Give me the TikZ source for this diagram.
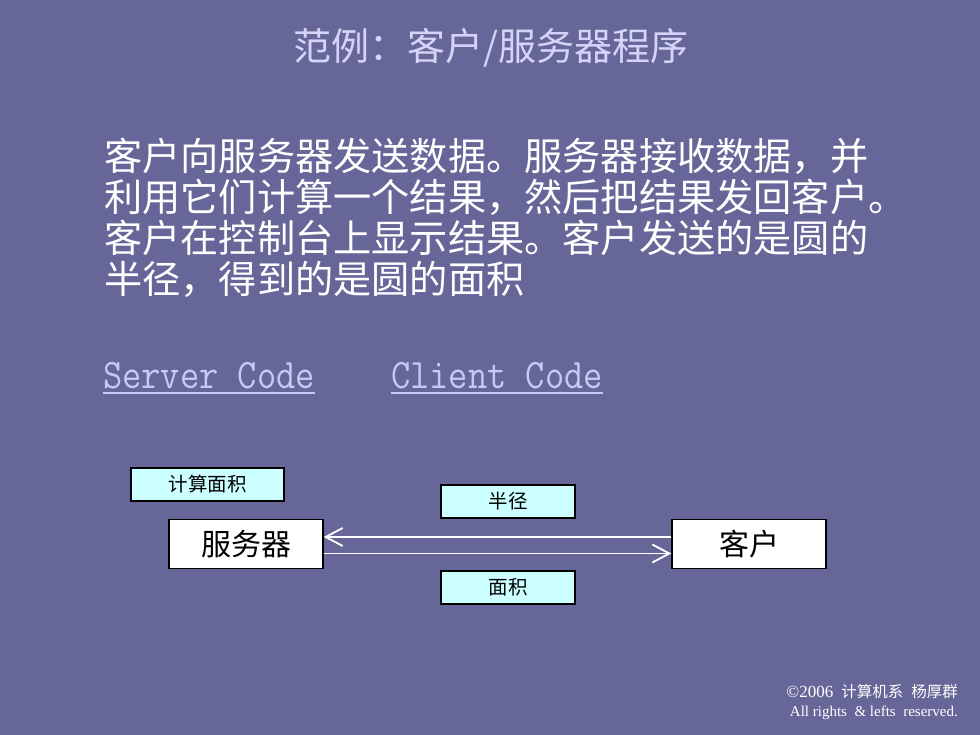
\documentclass[tikz,border=0pt]{standalone}
\usepackage{fontspec}
\usepackage{graphicx}
\setmainfont{Liberation Serif}
\newfontfamily\cjk{Noto Sans CJK SC}
\newfontfamily\lmmono{Latin Modern Mono}
\usetikzlibrary{arrows.meta}
\definecolor{bg}{HTML}{666699}
\definecolor{titlec}{HTML}{D4D4F8}
\definecolor{linkc}{HTML}{C8C8F4}
\definecolor{boxc}{HTML}{CCFFFF}
\tikzset{
  smallbox/.style={draw=black,line width=1.5pt,fill=boxc,inner sep=0pt,font=\cjk\fontsize{19.5}{22}\selectfont},
  bigbox/.style={draw=black,line width=1.5pt,fill=white,inner sep=0pt,minimum width=154pt,minimum height=49pt,font=\cjk\fontsize{30}{32}\selectfont},
  arr/.style={draw=white,line width=1.8pt,-{Straight Barb[length=17pt,width=18pt,line width=1.8pt]}},
  bodyline/.style={anchor=west,inner sep=0pt,text=white,font=\cjk\fontsize{38.2}{41}\selectfont},
  linktext/.style={anchor=base west,inner sep=0pt,text=linkc,font=\lmmono\fontsize{42}{44}\selectfont},
  linkline/.style={draw=linkc,line width=1.5pt}
}
\begin{document}
\begin{tikzpicture}[x=1pt,y=-1pt]
\fill[bg] (0,0) rectangle (980,735);
\useasboundingbox (0,0) rectangle (980,735);
% title
\node[inner sep=0pt,text=titlec,font=\cjk\fontsize{38}{40}\selectfont] (title) at (491,48) {范例：客户/服务器程序};
% body
\node[bodyline] (l1) at (104,156) {客户向服务器发送数据。服务器接收数据，并};
\node[bodyline] (l2) at (104,197) {利用它们计算一个结果，然后把结果发回客户。};
\node[bodyline] (l3) at (104,238) {客户在控制台上显示结果。客户发送的是圆的};
\node[bodyline] (l4) at (104,279) {半径，得到的是圆的面积};
% links
\node[linktext] (sc) at (103,388) {\scalebox{0.89}[1]{Server Code}};
\node[linktext] (cc) at (391,388) {\scalebox{0.89}[1]{Client Code}};
\draw[linkline] ([yshift=-5pt]sc.base west) -- ([yshift=-5pt]sc.base east);
\draw[linkline] ([yshift=-5pt]cc.base west) -- ([yshift=-5pt]cc.base east);
% diagram
\node[smallbox,minimum width=153pt,minimum height=33pt] (calc) at (207.5,484.5) {计算面积};
\node[smallbox,minimum width=134pt,minimum height=33pt] (rad) at (508,501.5) {半径};
\node[smallbox,minimum width=134pt,minimum height=33pt] (area) at (508,587.5) {面积};
\node[bigbox] (srv) at (246,544) {服务器};
\node[bigbox] (cli) at (749,544) {客户};
\draw[arr] ([yshift=7pt]cli.west) -- ([yshift=7pt]srv.east);
\draw[arr] ([yshift=-9.5pt]srv.east) -- ([yshift=-9.5pt]cli.west);
% copyright
\node[anchor=east,inner sep=0pt,text=white,font=\cjk\fontsize{15.5}{17}\selectfont] (copy1) at (958,692) {{\rmfamily\fontsize{17}{18}\selectfont ©2006}\hspace{8pt}计算机系\hspace{8pt}杨厚群};
\node[anchor=east,inner sep=0pt,text=white,font=\rmfamily\fontsize{15}{17}\selectfont] (copy2) at (958,713) {All rights \ \& lefts \ reserved.};
\end{tikzpicture}
\end{document}
